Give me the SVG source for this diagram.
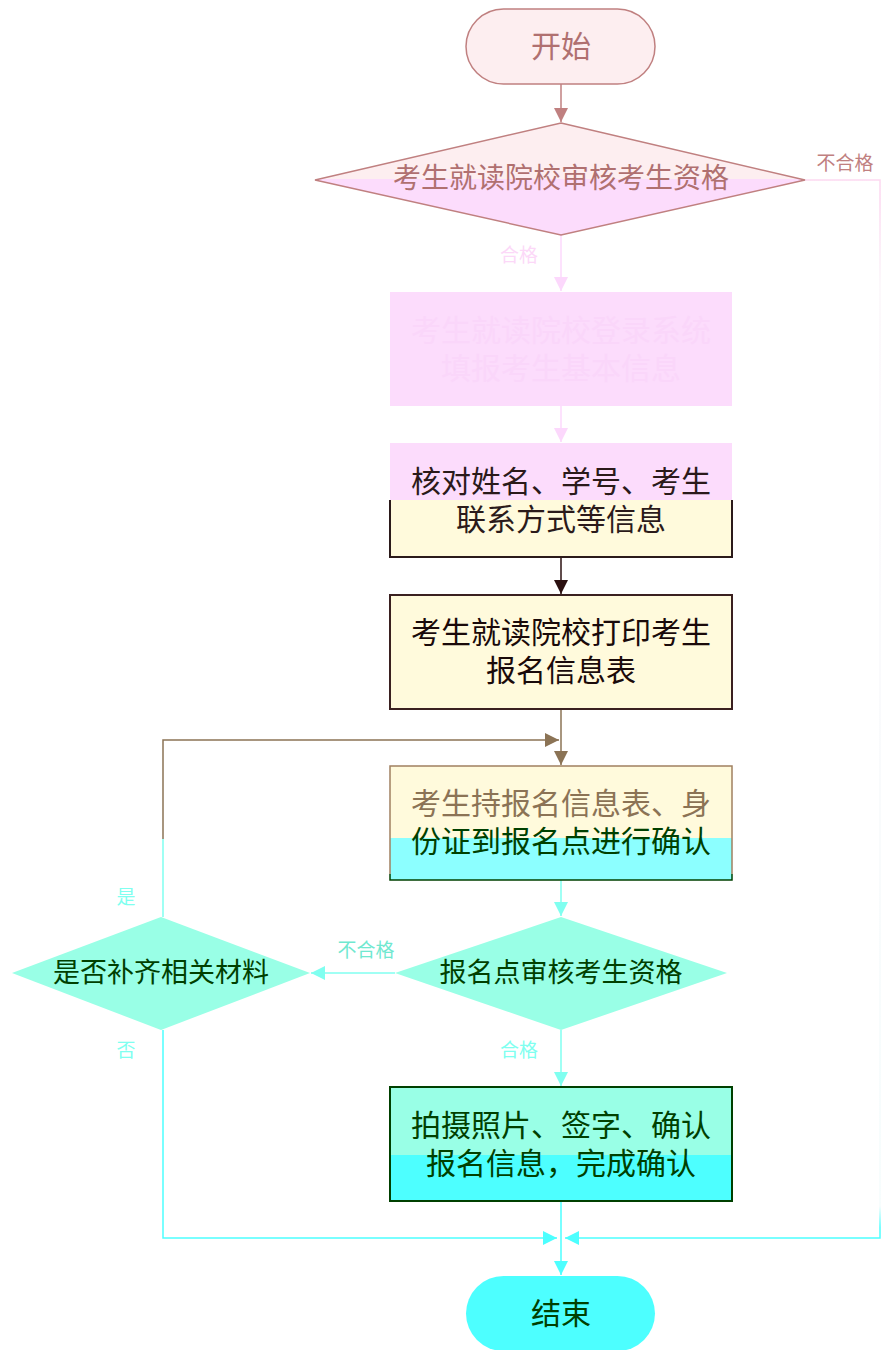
<svg xmlns="http://www.w3.org/2000/svg" width="881" height="1350" viewBox="0 0 881 1350">
<defs>
<style>
text{font-family:"Liberation Serif","Noto Sans CJK SC",serif;text-anchor:middle;dominant-baseline:central}
.t{font-size:30px}
.lbl{font-size:19px}
.c{fill:none;stroke-width:1.5}
</style>
<marker id="aPink" markerUnits="userSpaceOnUse" markerWidth="14" markerHeight="14" refX="14" refY="7" orient="auto"><path d="M0,0L14,7L0,14Z" fill="#c08080"/></marker>
<marker id="aMag" markerUnits="userSpaceOnUse" markerWidth="14" markerHeight="14" refX="14" refY="7" orient="auto"><path d="M0,0L14,7L0,14Z" fill="#fcd8fc"/></marker>
<marker id="aDark" markerUnits="userSpaceOnUse" markerWidth="14" markerHeight="14" refX="14" refY="7" orient="auto"><path d="M0,0L14,7L0,14Z" fill="#2b1010"/></marker>
<marker id="aBrown" markerUnits="userSpaceOnUse" markerWidth="14" markerHeight="14" refX="14" refY="7" orient="auto"><path d="M0,0L14,7L0,14Z" fill="#8b7355"/></marker>
<marker id="aCyan" markerUnits="userSpaceOnUse" markerWidth="14" markerHeight="14" refX="14" refY="7" orient="auto"><path d="M0,0L14,7L0,14Z" fill="#80fff0"/></marker>
<marker id="aCyan2" markerUnits="userSpaceOnUse" markerWidth="14" markerHeight="14" refX="14" refY="7" orient="auto"><path d="M0,0L14,7L0,14Z" fill="#4dffff"/></marker>
<linearGradient id="gLoop" x1="0" y1="0" x2="0" y2="1"><stop offset="0.56" stop-color="#8b7355"/><stop offset="0.56" stop-color="#80fff0"/></linearGradient>
<linearGradient id="gRight" x1="0" y1="0" x2="0" y2="1"><stop offset="0.02" stop-color="#fcd8f0"/><stop offset="0.1" stop-color="#fbf6fa"/><stop offset="0.97" stop-color="#f4fcfc"/><stop offset="0.99" stop-color="#4dffff"/></linearGradient>
<linearGradient id="gB3" x1="0" y1="0" x2="0" y2="1"><stop offset="0.5" stop-color="#fcdcfc"/><stop offset="0.5" stop-color="#fffadc"/></linearGradient>
<linearGradient id="gB5" x1="0" y1="0" x2="0" y2="1"><stop offset="0.63" stop-color="#fffadc"/><stop offset="0.63" stop-color="#8cffff"/></linearGradient>
<linearGradient id="gB5s" x1="0" y1="0" x2="0" y2="1"><stop offset="0.95" stop-color="#a08060"/><stop offset="0.95" stop-color="#004000"/></linearGradient>
<linearGradient id="gB6" x1="0" y1="0" x2="0" y2="1"><stop offset="0.6" stop-color="#99ffe6"/><stop offset="0.6" stop-color="#4dffff"/></linearGradient>
<linearGradient id="gD1" x1="0" y1="0" x2="0" y2="1"><stop offset="0.5" stop-color="#fdeef0"/><stop offset="0.5" stop-color="#fcdcfc"/></linearGradient>
</defs>

<g id="connectors">
<path class="c" d="M561,84V122" stroke="#c08080" marker-end="url(#aPink)"/>
<path class="c" d="M561,235V291" stroke="#fcd8fc" marker-end="url(#aMag)"/>
<path class="c" d="M561,406V442" stroke="#fcd8fc" marker-end="url(#aMag)"/>
<path class="c" d="M561,557V594" stroke="#2b1010" marker-end="url(#aDark)"/>
<path class="c" d="M561,709V765" stroke="#8b7355" marker-end="url(#aBrown)"/>
<path class="c" d="M163,917V740H559" stroke="url(#gLoop)" marker-end="url(#aBrown)"/>
<path class="c" d="M561,880V916" stroke="#80fff0" marker-end="url(#aCyan)"/>
<path class="c" d="M395,973H311" stroke="#80fff0" marker-end="url(#aCyan)"/>
<path class="c" d="M163,1030V1238H557" stroke="#4dffff" marker-end="url(#aCyan2)"/>
<path class="c" d="M561,1030V1086" stroke="#80fff0" marker-end="url(#aCyan)"/>
<path class="c" d="M561,1201V1275" stroke="#4dffff" marker-end="url(#aCyan2)"/>
<path class="c" d="M805,180H880V1238H565" stroke="url(#gRight)" marker-end="url(#aCyan2)"/>
<text class="lbl" x="845" y="163" fill="#c08080">不合格</text>
<text class="lbl" x="519" y="255" fill="#fcd8f8">合格</text>
<text class="lbl" x="366" y="950" fill="#70e8d0">不合格</text>
<text class="lbl" x="126" y="897" fill="#80fff0">是</text>
<text class="lbl" x="126" y="1050" fill="#80fff0">否</text>
<text class="lbl" x="519" y="1050" fill="#80fff0">合格</text>
</g>

<g id="start">
<rect x="466" y="9" width="189" height="75" rx="37.5" fill="#fdeef0" stroke="#c08080" stroke-width="1.5"/>
<text class="t" x="561" y="46" fill="#b07070">开始</text>
</g>

<g id="check1">
<polygon points="561,123 805,180 561,235 315,180" fill="url(#gD1)" stroke="#c08080" stroke-width="1.5"/>
<text x="561" y="178" font-size="28" fill="#b07070">考生就读院校审核考生资格</text>
</g>

<g id="enter">
<rect x="390" y="292" width="342" height="114" fill="#fcdcfc"/>
<text class="t" x="561" y="330" fill="#fad6fa">考生就读院校登录系统</text>
<text class="t" x="561" y="368" fill="#fad6fa">填报考生基本信息</text>
</g>

<g id="verify">
<rect x="390" y="443" width="342" height="114" fill="url(#gB3)"/>
<path d="M390,500V557H732V500" fill="none" stroke="#2b1a1a" stroke-width="2"/>
<text class="t" x="561" y="481" fill="#2b1a1a">核对姓名、学号、考生</text>
<text class="t" x="561" y="519" fill="#2b1a1a">联系方式等信息</text>
</g>

<g id="print">
<rect x="390" y="595" width="342" height="114" fill="#fffadc" stroke="#3a2020" stroke-width="2"/>
<text class="t" x="561" y="632" fill="#1a0a0a">考生就读院校打印考生</text>
<text class="t" x="561" y="670" fill="#1a0a0a">报名信息表</text>
</g>

<g id="confirm">
<rect x="390" y="766" width="342" height="114" fill="url(#gB5)" stroke="url(#gB5s)" stroke-width="1.5"/>
<text class="t" x="561" y="803" fill="#8b7355">考生持报名信息表、身</text>
<text class="t" x="561" y="841" fill="#004000">份证到报名点进行确认</text>
</g>

<g id="check2">
<polygon points="561,917 727,973 561,1030 395,973" fill="#99ffe6"/>
<text x="561" y="973" font-size="27" fill="#004000">报名点审核考生资格</text>
</g>

<g id="check3">
<polygon points="161,917 310,973 161,1030 12,973" fill="#99ffe6"/>
<text x="161" y="973" font-size="27" fill="#004000">是否补齐相关材料</text>
</g>

<g id="photo">
<rect x="390" y="1087" width="342" height="114" fill="url(#gB6)" stroke="#004000" stroke-width="2"/>
<text class="t" x="561" y="1125" fill="#004000">拍摄照片、签字、确认</text>
<text class="t" x="561" y="1163" fill="#004000">报名信息，完成确认</text>
</g>

<g id="end">
<rect x="466" y="1276" width="189" height="75" rx="37.5" fill="#4dffff"/>
<text class="t" x="561" y="1313" fill="#004000">结束</text>
</g>
</svg>
